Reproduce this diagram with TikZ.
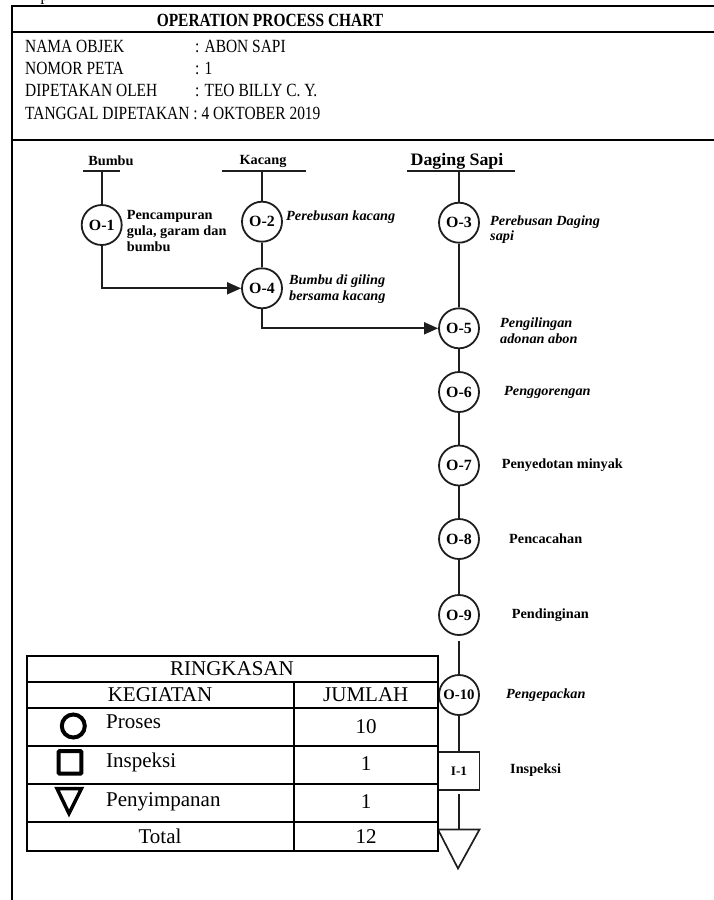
\documentclass[tikz,border=0pt]{standalone}
\usepackage{fontspec}
\setmainfont{Liberation Serif}
\newfontfamily\hdrfont[FakeStretch=0.83]{Liberation Serif}
\newfontfamily\dgfont[FakeStretch=1.02]{Liberation Serif}
\usetikzlibrary{arrows.meta,shapes.geometric}
\definecolor{ink}{HTML}{1E1E1E}
\tikzset{
  frame/.style={draw=black, line width=2pt},
  hdr/.style={font=\hdrfont\fontsize{18.6}{22}\selectfont, inner sep=0pt, anchor=base west},
  flow/.style={draw=ink, line width=1.7pt},
  arr/.style={flow, -{Triangle[length=14pt,width=12pt]}},
  proc/.style={circle, draw=ink, line width=1.8pt, minimum size=40pt, inner sep=0pt, fill=white,
    font=\dgfont\bfseries\fontsize{15.6}{17}\selectfont},
  insp/.style={rectangle, draw=ink, line width=1.8pt, minimum width=41pt, minimum height=38pt, inner sep=0pt,
    font=\dgfont\bfseries\fontsize{13}{15}\selectfont},
  src/.style={font=\dgfont\bfseries\fontsize{14}{16}\selectfont, inner sep=0pt, anchor=base},
  lab/.style={anchor=west, align=left, inner sep=0pt, font=\dgfont\bfseries\fontsize{14}{15.8}\selectfont},
  ilab/.style={anchor=west, align=left, inner sep=0pt, font=\dgfont\bfseries\itshape\fontsize{14}{15.8}\selectfont},
  tbl/.style={draw=black, line width=2pt},
  ttxt/.style={font=\fontsize{21}{24}\selectfont, inner sep=0pt, anchor=base},
  sym/.style={draw=black, line width=4pt},
}
\begin{document}
\begin{tikzpicture}[x={(1pt,0)}, y={(0,-1pt)}]
\useasboundingbox (0,0) rectangle (714,900);
% cut-off text above the chart
\node[hdr] (ptop) at (40.5,0.5) {p};
% header frame
\draw[frame] (12,906) -- (12,6) -- (720,6);
\draw[frame] (12,32) -- (720,32);
\draw[frame] (12,140) -- (720,140);
\node[hdr, anchor=base, font=\hdrfont\bfseries\fontsize{18.6}{22}\selectfont] (title) at (270,26.7) {OPERATION PROCESS CHART};
\node[hdr] (h1a) at (25,52) {NAMA OBJEK};
\node[hdr] (h1b) at (195,52) {: ABON SAPI};
\node[hdr] (h2a) at (25,74.4) {NOMOR PETA};
\node[hdr] (h2b) at (195,74.4) {: 1};
\node[hdr] (h3a) at (25,96.8) {DIPETAKAN OLEH};
\node[hdr] (h3b) at (195,96.8) {: TEO BILLY C. Y.};
\node[hdr] (h4a) at (25,119.3) {TANGGAL DIPETAKAN : 4 OKTOBER 2019};

% sources
\node[src] (sBumbu) at (111,165) {Bumbu};
\node[src] (sKacang) at (263,164) {Kacang};
\node[src, font=\dgfont\bfseries\fontsize{17.5}{19}\selectfont] (sDaging) at (457,165) {Daging Sapi};
\coordinate (bL1) at (83,170.7);  \coordinate (bR1) at (120,170.7);  \coordinate (bM1) at (101.7,170.7);
\coordinate (bL2) at (222,170.7); \coordinate (bR2) at (306,170.7);  \coordinate (bM2) at (262,170.7);
\coordinate (bL3) at (407,170.7); \coordinate (bR3) at (515,170.7);  \coordinate (bM3) at (459,170.7);
\draw[flow] (bL1) -- (bR1);
\draw[flow] (bL2) -- (bR2);
\draw[flow] (bL3) -- (bR3);

% operations
\node[proc] (O1) at (101.7,225) {O-1};
\node[proc] (O2) at (262,221.7) {O-2};
\node[proc] (O3) at (459,222.7) {O-3};
\node[proc] (O4) at (262,288.3) {O-4};
\node[proc] (O5) at (459,328.3) {O-5};
\node[proc] (O6) at (459,392) {O-6};
\node[proc] (O7) at (459,465.5) {O-7};
\node[proc] (O8) at (459,539) {O-8};
\node[proc] (O9) at (459,615) {O-9};
\node[proc, font=\dgfont\bfseries\fontsize{14.5}{16}\selectfont] (O10) at (459,695) {O-10};
\node[insp] (I1) at (459,771) {I-1};
\coordinate (stTop) at (459,829.5);
\draw[flow, line join=miter] (438,829.5) -- (479.5,829.5) -- (458,868.5) -- cycle;

% connectors
\draw[flow] (bM1) -- (O1.north);
\draw[flow] (bM2) -- (O2.north);
\draw[flow] (bM3) -- (O3.north);
\draw[flow] (O2) -- (O4);
\draw[flow] (O3) -- (O5);
\draw[arr] (O1.south) |- (O4.west);
\draw[arr] (O4.south) |- (O5.west);
\draw[flow] (O5) -- (O6);
\draw[flow] (O6) -- (O7);
\draw[flow] (O7) -- (O8);
\draw[flow] (O8) -- (O9);
\draw[flow, shorten <=5pt] (O9) -- (O10);
\draw[flow] (O10) -- (I1);
\draw[flow, shorten <=3pt] (I1) -- (stTop);

% labels
\node[lab] (l1) at (126.7,231) {Pencampuran\\gula, garam dan\\bumbu};
\node[ilab] (l2) at (286,216.7) {Perebusan kacang};
\node[ilab] (l3) at (490,229.7) {Perebusan Daging\\sapi};
\node[ilab] (l4) at (289,289.5) {Bumbu di giling\\bersama kacang};
\node[ilab] (l5) at (500,331) {Pengilingan\\adonan abon};
\node[ilab] (l6) at (504,392) {Penggorengan};
\node[lab] (l7) at (501.7,465) {Penyedotan minyak};
\node[lab] (l8) at (509,538.3) {Pencacahan};
\node[lab] (l9) at (511.7,615) {Pendinginan};
\node[ilab] (l10) at (506,695) {Pengepackan};
\node[lab] (l11) at (510,770) {Inspeksi};

% summary table
\draw[tbl, fill=white] (26.7,656) rectangle (437.7,850.7);
\draw[tbl] (26.7,681.7) -- (437.7,681.7);
\draw[tbl] (26.7,707.7) -- (437.7,707.7);
\draw[tbl] (26.7,745.7) -- (437.7,745.7);
\draw[tbl] (26.7,783.7) -- (437.7,783.7);
\draw[tbl] (26.7,822) -- (437.7,822);
\draw[tbl] (294,681.7) -- (294,850.7);
\node[ttxt] (tR) at (232,675) {RINGKASAN};
\node[ttxt] (tK) at (160,701) {KEGIATAN};
\node[ttxt] (tJ) at (365.8,701) {JUMLAH};
\draw[sym] (73.3,726) circle (11.5pt);
\draw[sym, rounded corners=1pt] (58.7,751) rectangle (81.3,773.7);
\draw[black, line width=3.5pt, line join=miter] (57,788.5) -- (81.5,788.5) -- (69,813.5) -- cycle;
\node[ttxt, anchor=base west] (tP) at (106,728.3) {Proses};
\node[ttxt, anchor=base west] (tI) at (106,767.7) {Inspeksi};
\node[ttxt, anchor=base west] (tS) at (106,806.7) {Penyimpanan};
\node[ttxt] (n1) at (366,733.3) {10};
\node[ttxt] (n2) at (366,770.7) {1};
\node[ttxt] (n3) at (366,808.3) {1};
\node[ttxt] (tT) at (160,843.3) {Total};
\node[ttxt] (n4) at (366,843.3) {12};
\end{tikzpicture}
\end{document}
